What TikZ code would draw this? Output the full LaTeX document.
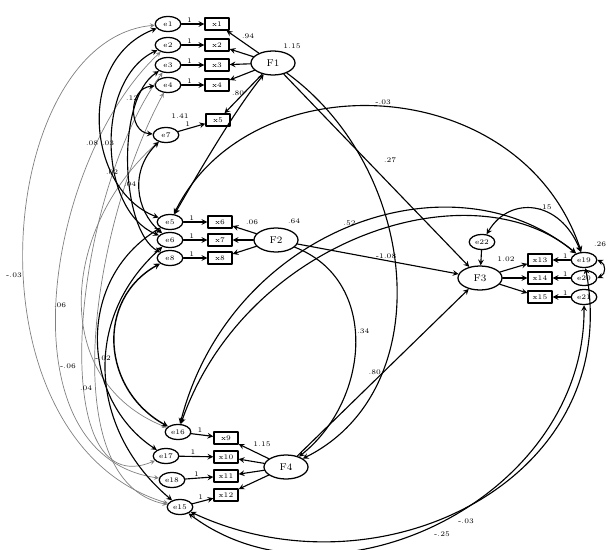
\documentclass[tikz,border=0pt]{standalone}
\usetikzlibrary{shapes.geometric}

\begin{document}
\begin{tikzpicture}[x=0.025cm,y=-0.025cm,line cap=round,line join=round,>=stealth,
  every node/.style={inner sep=1pt},
  err/.style={ellipse,draw,line width=0.9pt,minimum width=0.64cm,minimum height=0.38cm,font=\tiny},
  ind/.style={rectangle,draw,line width=1pt,minimum width=0.6cm,minimum height=0.3cm,font=\tiny},
  lat/.style={ellipse,draw,line width=0.9pt,minimum width=1.1cm,minimum height=0.6cm,font=\scriptsize},
  reg/.style={->,line width=0.8pt},
  cov/.style={<->,line width=0.8pt},
  covg/.style={<->,line width=0.5pt,gray},
  lab/.style={font=\tiny}]
  \useasboundingbox (0,0) rectangle (610,550);
  % F1 block
  \foreach \n/\y in {1/24,2/45,3/65,4/85} {
    \node[err] (e\n) at (168,\y) {e\n};
    \node[ind] (x\n) at (217,\y) {x\n};
  }
  \node[err] (e7) at (166,135) {e7};
  \node[ind] (x5) at (218,120) {x5};
  \node[lat] (F1) at (273,63) {F1};
  % F2 block
  \foreach \n/\y [count=\i from 6] in {5/222,6/240,8/258} {
    \node[err] (e\n) at (170,\y) {e\n};
    \node[ind] (x\i) at (220,\y) {x\i};
  }
  \node[lat] (F2) at (276,240) {F2};
  % F4 block
  \foreach \n/\ex/\y in {16/178/432,17/166/456,18/172/480,15/180/507} {
    \node[err] (e\n) at (\ex,\y) {e\n};
  }
  \foreach \y [count=\i from 9] in {438,457,476,495} {
    \node[ind] (x\i) at (226,\y) {x\i};
  }
  \node[lat] (F4) at (286,467) {F4};
  % F3 block
  \node[lat] (F3) at (480,278) {F3};
  \foreach \n/\y [count=\i from 13] in {19/260,20/278,21/297} {
    \node[ind] (x\i) at (540,\y) {x\i};
    \node[err] (e\n) at (584,\y) {e\n};
  }
  \node[err] (e22) at (482,242) {e22};

  \foreach \i in {1,...,5} \draw[reg] (F1) -- (x\i);
  \foreach \n/\i in {1/1,2/2,3/3,4/4,7/5} \draw[reg] (e\n) -- node[lab,above,pos=0.35] (o\i) {1} (x\i);
  \foreach \i in {6,7,8} \draw[reg] (F2) -- (x\i);
  \foreach \n/\i in {5/6,6/7,8/8} \draw[reg] (e\n) -- node[lab,above,pos=0.35] (o\i) {1} (x\i);
  \foreach \i in {9,...,12} \draw[reg] (F4) -- (x\i);
  \foreach \n/\i in {16/9,17/10,18/11,15/12} \draw[reg] (e\n) -- node[lab,above,pos=0.4] (o\i) {1} (x\i);
  \foreach \i in {13,14,15} \draw[reg] (F3) -- (x\i);
  \foreach \n/\i in {19/13,20/14,21/15} \draw[reg] (e\n) -- node[lab,above,pos=0.3] (o\i) {1} (x\i);
  \draw[reg] (e22) -- (F3);

  \draw[reg] (F1) -- (F3);
  \draw[reg] (F2) -- node[lab,pos=0.55,above] (lb1) {-1.08} (F3);
  \draw[reg] (F4) -- node[lab,pos=0.5,left] (lb2) {.80} (F3);
  \draw[reg] (F1) .. controls (420,170) and (440,390) .. (F4);
  \draw[reg] (F2) .. controls (380,280) and (370,400) .. node[lab,pos=0.45,right] (lb3) {.34} (F4);
  \node[lab] (lb4) at (390,160) {.27};

  \draw[cov] (F1) .. controls (235,110) and (200,170) .. (e5);
  \draw[cov] (e5) .. controls (250,60) and (520,70) .. node[lab,pos=0.5,above] (lb5) {-.03} (e19);
  \draw[cov] (e16) .. controls (230,230) and (450,150) .. node[lab,pos=0.5,above] (lb6) {.52} (e19);
  \draw[cov] (e16) .. controls (245,240) and (470,165) .. (e19);
  \draw[cov] (e22) .. controls (510,195) and (560,200) .. node[lab,pos=0.6,above] (lb7) {.15} (e19);
  \draw[cov] (e19.east) .. controls (606,264) and (606,274) .. (e20.east);
  \draw[cov] (e19) .. controls (625,480) and (380,600) .. (e15);
  \draw[cov] (e21) .. controls (585,500) and (330,620) .. (e15);
  \node[lab] (lb8) at (466,521) {-.03};
  \node[lab] (lb9) at (442,534) {-.25};

  \draw[covg] (e1) .. controls (-5,40) and (-40,440) .. (e15);
  \draw[covg] (e2) .. controls (45,160) and (0,455) .. (e18);
  \draw[covg] (e3) .. controls (70,200) and (45,507) .. (e17);
  \draw[covg] (e4) .. controls (90,230) and (55,482) .. (e15);
  \draw[covg] (e7) .. controls (60,230) and (50,381) .. (e16);
  \node[lab] (lb10) at (14,275) {-.03};
  \node[lab] (lb11) at (60,305) {.06};
  \node[lab] (lb12) at (68,366) {-.06};
  \node[lab] (lb13) at (86,388) {.04};
  \node[lab] (lb14) at (103,358) {-.02};

  \draw[cov] (e1) .. controls (75,60) and (87,190) .. (e5);
  \draw[cov] (e2) .. controls (95,80) and (98,210) .. (e6);
  \draw[cov] (e3) .. controls (115,100) and (121,230) .. (e8);
  \draw[cov] (e4) .. controls (128,88) and (128,132) .. (e7);
  \draw[cov] (e7) .. controls (130,170) and (135,210) .. (e6);
  \node[lab] (lb15) at (92,143) {.08};
  \node[lab] (lb16) at (108,143) {.03};
  \node[lab] (lb17) at (112,172) {.02};
  \node[lab] (lb18) at (132,98) {.12};
  \node[lab] (lb19) at (130,184) {.04};

  \draw[cov,line width=1pt] (e8) .. controls (95,300) and (102,390) .. (e16);
  \draw[cov] (e5) .. controls (75,280) and (81,400) .. (e17);
  \draw[cov] (e6) .. controls (80,320) and (91,432) .. (e15);

  \node[lab] (v1) at (292,46) {1.15};
  \node[lab] (v2) at (180,116) {1.41};
  \node[lab] (v3) at (506,259) {1.02};
  \node[lab] (v4) at (600,244) {.26};
  \node[lab] (v5) at (262,444) {1.15};
  \node[lab] (v6) at (294,221) {.64};
  \node[lab] (v7) at (248,36) {.94};
  \node[lab] (v8) at (238,93) {.80};
  \node[lab] (v9) at (252,222) {.06};
\end{tikzpicture}
\end{document}
